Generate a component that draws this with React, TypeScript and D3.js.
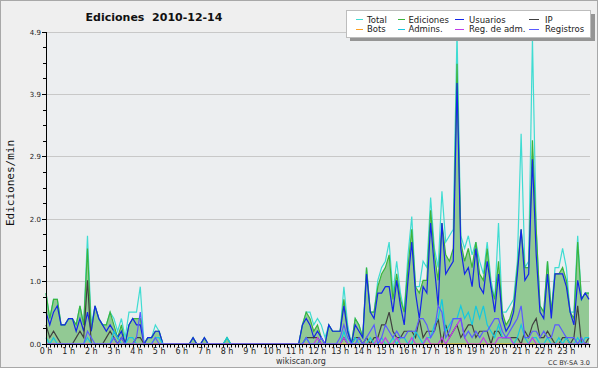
import React from "react";
import * as d3 from "d3";

const hourLabels = [
  "0 h", "1 h", "2 h", "3 h", "4 h", "5 h", "6 h", "7 h", "8 h", "9 h", "10 h", "11 h",
  "12 h", "13 h", "14 h", "15 h", "16 h", "17 h", "18 h", "19 h", "20 h", "21 h", "22 h", "23 h",
];
const yTickLabels = ["0.0", "1.0", "2.0", "2.9", "3.9", "4.9"];
const yMax = 4.9;
const legendNames = ["Total", "Ediciones", "Usuarios", "IP", "Bots", "Admins.", "Reg. de adm.", "Registros"];

// one value every 10 minutes, 6 per hour
const total = [
  0.8, 0.4, 0.7, 0.7, 0.3, 0.3,
  0.4, 0.4, 0.3, 0.6, 0.3, 1.7,
  0.3, 0.6, 0.4, 0.3, 0.3, 0.5,
  0.4, 0.2, 0.4, 0.1, 0.5, 0.5,
  0.5, 0.9, 0, 0.1, 0.1, 0.3,
  0.2, 0, 0, 0, 0, 0,
  0, 0, 0, 0.1, 0, 0,
  0.1, 0, 0, 0, 0, 0,
  0.1, 0, 0, 0, 0, 0,
  0, 0, 0, 0, 0, 0,
  0, 0, 0, 0, 0, 0,
  0, 0, 0.3, 0.5, 0.5, 0.3,
  0.4, 0.3, 0.1, 0.3, 0.2, 0.2,
  0.2, 0.9, 0.3, 0, 0.4, 0.3,
  0.1, 1.2, 0.5, 0.5, 1.0, 1.2,
  1.3, 1.6, 0.8, 1.3, 0.8, 0.5,
  1.4, 2.0, 0.9, 0.9, 1.3, 1.2,
  2.3, 1.5, 1.2, 2.4, 1.6, 1.7,
  1.8, 4.9, 1.7, 1.5, 1.7, 1.4,
  1.6, 1.3, 1.1, 1.6, 1.0, 0.7,
  1.9, 0.5, 0.5, 0.6, 0.7, 1.3,
  3.3, 1.2, 1.3, 4.8, 1.8, 0.6,
  0.5, 1.3, 0.5, 1.2, 1.2, 1.5,
  1.2, 0.5, 0.5, 1.7, 0.7, 0.8,
  0.8,
];
const ediciones = [
  0.8, 0.4, 0.7, 0.7, 0.3, 0.3,
  0.4, 0.4, 0.3, 0.6, 0.3, 1.5,
  0.2, 0.6, 0.4, 0.3, 0.3, 0.5,
  0.3, 0.1, 0.3, 0, 0.3, 0.4,
  0.4, 0.4, 0, 0.1, 0.1, 0.2,
  0.2, 0, 0, 0, 0, 0,
  0, 0, 0, 0.1, 0, 0,
  0.1, 0, 0, 0, 0, 0,
  0.1, 0, 0, 0, 0, 0,
  0, 0, 0, 0, 0, 0,
  0, 0, 0, 0, 0, 0,
  0, 0, 0.3, 0.5, 0.4, 0.2,
  0.3, 0.1, 0, 0.3, 0.2, 0.2,
  0.2, 0.7, 0.2, 0, 0.4, 0.3,
  0.1, 1.2, 0.5, 0.5, 0.9, 1.1,
  1.2, 1.4, 0.7, 1.1, 0.7, 0.5,
  1.2, 1.8, 0.9, 0.8, 1.0, 1.0,
  2.1, 1.4, 1.0, 1.9, 1.4, 1.3,
  1.5, 4.4, 1.6, 1.3, 1.5, 1.2,
  1.6, 1.1, 1.0, 1.5, 0.9, 0.7,
  1.3, 0.5, 0.3, 0.4, 0.6, 1.2,
  1.8, 1.2, 1.2, 3.2, 1.8, 0.6,
  0.5, 1.3, 0.5, 1.1, 1.1, 1.2,
  1.0, 0.5, 0.4, 1.6, 0.7, 0.8,
  0.8,
];
const usuarios = [
  0.5, 0.3, 0.5, 0.6, 0.3, 0.3,
  0.4, 0.4, 0.2, 0.4, 0.2, 0.5,
  0.2, 0.6, 0.4, 0.3, 0.2, 0.3,
  0.2, 0.1, 0.2, 0, 0.3, 0.4,
  0.3, 0.3, 0, 0.1, 0.1, 0.2,
  0.2, 0, 0, 0, 0, 0,
  0, 0, 0, 0.1, 0, 0,
  0.1, 0, 0, 0, 0, 0,
  0, 0, 0, 0, 0, 0,
  0, 0, 0, 0, 0, 0,
  0, 0, 0, 0, 0, 0,
  0, 0, 0.3, 0.4, 0.3, 0.1,
  0.2, 0.1, 0, 0.3, 0.2, 0.2,
  0.2, 0.6, 0.2, 0, 0.3, 0.2,
  0.1, 1.1, 0.5, 0.4, 0.8, 0.8,
  0.9, 0.9, 0.5, 1.0, 0.6, 0.3,
  1.0, 1.6, 0.8, 0.4, 0.9, 0.8,
  1.9, 1.2, 0.6, 1.9, 1.1, 1.2,
  1.3, 4.1, 1.5, 1.1, 1.2, 0.9,
  1.5, 0.9, 0.8, 1.3, 0.9, 0.5,
  1.1, 0.4, 0.2, 0.3, 0.5, 1.1,
  1.8, 1.0, 1.1, 2.9, 1.4, 0.5,
  0.4, 1.1, 0.4, 1.1, 1.1, 1.1,
  0.9, 0.5, 0.3, 1.0, 0.7, 0.8,
  0.7,
];
const ip = [
  0.3, 0.1, 0.2, 0.1, 0, 0,
  0, 0, 0.1, 0.2, 0.1, 1.0,
  0, 0, 0, 0, 0.1, 0.2,
  0.1, 0, 0.1, 0, 0, 0,
  0.1, 0.1, 0, 0, 0, 0,
  0, 0, 0, 0, 0, 0,
  0, 0, 0, 0, 0, 0,
  0, 0, 0, 0, 0, 0,
  0, 0, 0, 0, 0, 0,
  0, 0, 0, 0, 0, 0,
  0, 0, 0, 0, 0, 0,
  0, 0, 0, 0.1, 0.1, 0.1,
  0.1, 0, 0, 0, 0, 0,
  0, 0.1, 0, 0, 0.1, 0.1,
  0, 0.1, 0, 0.1, 0.1, 0.3,
  0.3, 0.5, 0.2, 0.1, 0.1, 0.2,
  0.2, 0.2, 0.1, 0.4, 0.1, 0.2,
  0.2, 0.2, 0.4, 0, 0.3, 0.1,
  0.2, 0.3, 0.1, 0.2, 0.3, 0.3,
  0.1, 0.2, 0.2, 0.2, 0, 0.2,
  0.2, 0.1, 0.1, 0.1, 0.1, 0.1,
  0, 0.2, 0.1, 0.3, 0.4, 0.1,
  0.1, 0.2, 0.1, 0, 0, 0.1,
  0.1, 0, 0.1, 0.6, 0, 0,
  0.1,
];
const bots = [
  0, 0, 0, 0, 0, 0, 0, 0, 0, 0, 0, 0,
  0, 0, 0, 0, 0, 0, 0, 0, 0, 0, 0, 0,
  0, 0, 0, 0, 0, 0, 0, 0, 0, 0, 0, 0,
  0, 0, 0, 0, 0, 0, 0, 0, 0, 0, 0, 0,
  0, 0, 0, 0, 0, 0, 0, 0, 0, 0, 0, 0,
  0, 0, 0, 0, 0, 0, 0, 0, 0, 0, 0, 0,
  0, 0, 0, 0, 0, 0, 0, 0, 0, 0, 0, 0,
  0, 0, 0, 0, 0, 0, 0, 0, 0, 0, 0, 0,
  0, 0, 0, 0, 0, 0, 0, 0, 0, 0, 0, 0,
  0, 0, 0, 0, 0, 0, 0, 0, 0, 0, 0, 0,
  0, 0, 0, 0, 0, 0, 0, 0, 0, 0, 0, 0,
  0, 0, 0, 0, 0, 0, 0, 0, 0, 0, 0, 0,
  0,
];
const admins = [
  0.1, 0, 0.1, 0, 0, 0,
  0, 0, 0, 0, 0, 0.1,
  0, 0, 0, 0, 0, 0,
  0.2, 0.1, 0, 0, 0.1, 0.1,
  0, 0, 0, 0, 0, 0.1,
  0.1, 0, 0, 0, 0, 0,
  0, 0, 0, 0, 0, 0,
  0, 0, 0, 0, 0, 0,
  0.1, 0, 0, 0, 0, 0,
  0, 0, 0, 0, 0, 0,
  0, 0, 0, 0, 0, 0,
  0, 0, 0, 0.1, 0, 0,
  0, 0, 0, 0, 0, 0,
  0, 0.2, 0, 0, 0.1, 0,
  0, 0, 0.1, 0, 0, 0.1,
  0, 0, 0.1, 0, 0.1, 0.1,
  0, 0, 0.2, 0.1, 0, 0.1,
  0.1, 0.3, 0.4, 0.7, 0.2, 0.3,
  0.4, 0.4, 0.6, 0.4, 0.5, 0.3,
  0.6, 0.4, 0.6, 0.3, 0.2, 0.1,
  0.3, 0.1, 0.1, 0.1, 0, 0.1,
  0.3, 0.1, 0, 0.1, 0.1, 0,
  0, 0.1, 0, 0, 0.1, 0,
  0.1, 0, 0, 0.1, 0, 0.1,
  0.1,
];
const regAdm = [
  0, 0, 0, 0, 0, 0,
  0, 0, 0, 0, 0, 0,
  0, 0, 0, 0, 0, 0,
  0, 0, 0, 0, 0, 0,
  0, 0, 0, 0, 0, 0,
  0, 0, 0, 0, 0, 0,
  0, 0, 0, 0, 0, 0,
  0, 0, 0, 0, 0, 0,
  0, 0, 0, 0, 0, 0,
  0, 0, 0, 0, 0, 0,
  0, 0, 0, 0, 0, 0,
  0, 0, 0, 0, 0, 0,
  0.1, 0, 0, 0, 0, 0,
  0, 0.1, 0, 0, 0, 0,
  0, 0, 0, 0, 0.1, 0,
  0.1, 0, 0, 0.1, 0, 0,
  0, 0.1, 0, 0, 0, 0.1,
  0, 0, 0, 0.1, 0, 0.1,
  0.2, 0.3, 0.4, 0.1, 0, 0,
  0, 0, 0.1, 0, 0, 0,
  0.1, 0.1, 0.1, 0.1, 0, 0,
  0, 0, 0, 0.1, 0, 0,
  0, 0, 0, 0, 0, 0,
  0, 0, 0, 0, 0, 0,
  0,
];
const registros = [
  0, 0, 0, 0, 0, 0,
  0, 0, 0, 0, 0, 0.2,
  0.1, 0, 0, 0, 0, 0,
  0.1, 0, 0.1, 0, 0, 0,
  0.1, 0.5, 0, 0, 0, 0.1,
  0, 0, 0, 0, 0, 0,
  0, 0, 0, 0, 0, 0,
  0, 0, 0, 0, 0, 0,
  0, 0, 0, 0, 0, 0,
  0, 0, 0, 0, 0, 0,
  0, 0, 0, 0, 0, 0,
  0, 0, 0, 0.1, 0, 0,
  0, 0.1, 0, 0, 0, 0,
  0.1, 0.3, 0.1, 0, 0, 0.1,
  0, 0.1, 0.2, 0.3, 0, 0.1,
  0.3, 0.2, 0.1, 0.2, 0.1, 0.1,
  0.2, 0.2, 0.2, 0.4, 0.4, 0.3,
  0.1, 0.2, 0.6, 0.5, 0.1, 0.2,
  0.4, 0.4, 0.4, 0.1, 0.2, 0.1,
  0.2, 0.1, 0.2, 0.2, 0.3, 0.4,
  0.4, 0.2, 0.1, 0.2, 0.3, 0.4,
  0.6, 0.1, 0.1, 0.2, 0.2, 0.1,
  0.2, 0.1, 0.1, 0.3, 0.3, 0.2,
  0.1, 0.1, 0.1, 0, 0.1, 0,
  0,
];

const C = {
  total: "#3fdcd2",
  edic: "#3cb43c",
  edicFill: "#92c994",
  usu: "#1426e8",
  ip: "#404040",
  bots: "#ffa020",
  admins: "#14c8e0",
  regAdm: "#c03ce8",
  registros: "#5a5aff",
};

export default function App() {
  const W = 600;
  const H = 370;
  const L = 46;
  const R = 589;
  const T = 32;
  const B = 344;
  const n = total.length;
  const x = d3.scaleLinear().domain([0, n - 1]).range([L, R]);
  const y = d3.scaleLinear().domain([0, yMax]).range([B, T]);
  const line = d3.line<number>().x((_, i) => x(i)).y((d) => y(d));
  const area = d3.area<number>().x((_, i) => x(i)).y0(y(0)).y1((d) => y(d));

  const nMaj = yTickLabels.length - 1;
  const majorVals = yTickLabels.map((_, k) => (yMax * k) / nMaj);
  const minorVals = d3.range(0, nMaj * 4 + 1).map((k) => (yMax * k) / (nMaj * 4));
  const font = "'DejaVu Sans', Verdana, sans-serif";

  const lineSeries = [
    { d: usuarios, c: C.usu },
    { d: ip, c: C.ip },
    { d: bots, c: C.bots },
    { d: admins, c: C.admins },
    { d: regAdm, c: C.regAdm },
    { d: registros, c: C.registros },
  ];
  const legendColors = [C.total, C.edic, C.usu, C.ip, C.bots, C.admins, C.regAdm, C.registros];
  const cols = [
    { l1: 356, l2: 363, t: 367 },
    { l1: 398, l2: 405, t: 408.5 },
    { l1: 455, l2: 464, t: 469 },
    { l1: 529, l2: 539, t: 545 },
  ];
  const rows = [
    { ly: 19.5, ty: 22.5 },
    { ly: 29.5, ty: 32.3 },
  ];

  return (
    <svg
      width={W}
      height={H}
      style={{ position: "absolute", left: 0, top: 0, display: "block" }}
      fontFamily={font}
    >
      <rect width={W} height={H} fill="#ffffff" />
      <rect x={0} y={0} width={598} height={368} fill="#efefef" />
      <rect x={0.5} y={0.5} width={597} height={367} fill="none" stroke="#a8a8a8" />
      <rect x={L} y={T} width={R - L + 1} height={B - T} fill="#eceef0" />

      {majorVals.slice(1).map((v, k) => (
        <line key={"g" + k} x1={L} x2={R + 1} y1={Math.floor(y(v)) + 0.5} y2={Math.floor(y(v)) + 0.5} stroke="#c8c8c8" strokeWidth={1} />
      ))}

      <path d={area(ediciones) || ""} fill={C.edicFill} stroke="none" />
      <path d={line(total) || ""} fill="none" stroke={C.total} strokeWidth={1.2} />
      <path d={line(ediciones) || ""} fill="none" stroke={C.edic} strokeWidth={1.2} />
      {lineSeries.map((s, k) => (
        <path key={"s" + k} d={line(s.d) || ""} fill="none" stroke={s.c} strokeWidth={1.2} />
      ))}

      {/* axes */}
      <line x1={L + 0.5} x2={L + 0.5} y1={T} y2={B + 1} stroke="#000" />
      <line x1={L} x2={R + 1.5} y1={B + 0.5} y2={B + 0.5} stroke="#000" />
      {minorVals.map((v, k) => (
        <line key={"ym" + k} x1={k % 4 === 0 ? L - 4 : L - 3} x2={L} y1={Math.floor(y(v)) + 0.5} y2={Math.floor(y(v)) + 0.5} stroke="#000" />
      ))}
      {majorVals.map((v, k) => (
        <text key={"yl" + k} x={41} y={y(v) + 2.5} fontSize={7} textAnchor="end" fill="#222">
          {yTickLabels[k]}
        </text>
      ))}
      {d3.range(0, n).map((i) => (
        <line key={"xt" + i} x1={Math.round(x(i)) + 0.5} x2={Math.round(x(i)) + 0.5} y1={B} y2={B + 3.5} stroke="#000" />
      ))}
      {hourLabels.map((h, k) => (
        <text key={"xl" + k} x={x(k * 6)} y={354} fontSize={8} textAnchor="middle" fill="#222">
          {h}
        </text>
      ))}

      <text
        transform="translate(13.5,183) rotate(-90)"
        fontSize={11}
        fontFamily="'DejaVu Sans Mono', monospace"
        textAnchor="middle"
        fill="#111"
      >
        Ediciones/min
      </text>

      <text x={154} y={21} fontSize={11} fontWeight="bold" textAnchor="middle" fill="#111" style={{ whiteSpace: "pre" }}>
        {"Ediciones  2010-12-14"}
      </text>

      <text x={301} y={364} fontSize={8} textAnchor="middle" fill="#333">
        wikiscan.org
      </text>
      <text x={590} y={365} fontSize={6.5} textAnchor="end" fill="#333">
        CC BY-SA 3.0
      </text>

      {/* legend */}
      <rect x={350} y={14} width={245} height={27} fill="#959595" />
      <rect x={346.5} y={10.5} width={244} height={27} fill="#ffffff" stroke="#bdbdbd" />
      {legendNames.map((name, k) => {
        const c = cols[k % 4];
        const r = rows[Math.floor(k / 4)];
        return (
          <g key={"lg" + k}>
            <line x1={c.l1} x2={c.l2} y1={r.ly} y2={r.ly} stroke={legendColors[k]} strokeWidth={1} />
            <text x={c.t} y={r.ty} fontSize={8.5} fill="#222">
              {name}
            </text>
          </g>
        );
      })}
    </svg>
  );
}
